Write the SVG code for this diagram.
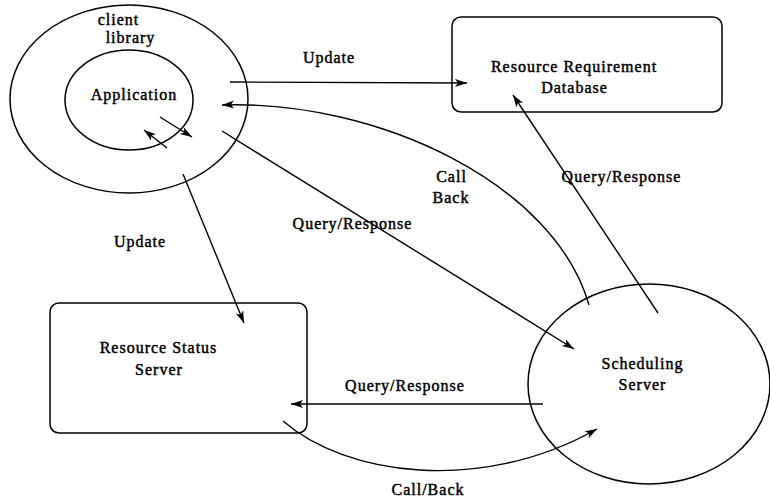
<svg xmlns="http://www.w3.org/2000/svg" width="770" height="497" viewBox="0 0 770 497">
<style>
  .shape { fill: none; stroke: #000; stroke-width: 1.5; }
  .conn { fill: none; stroke: #000; stroke-width: 1.4; }
  text { font-family: "Liberation Serif", "Times New Roman", serif; font-size: 16px; letter-spacing: 1px; fill: #000; stroke: #000; stroke-width: 0.45; text-anchor: middle; }
</style>
<defs>
  <marker id="arr" markerUnits="userSpaceOnUse" markerWidth="14" markerHeight="10" refX="12" refY="4" orient="auto">
    <path d="M0,0 L12,4 L0,8 L3,4 z" fill="#000" stroke="none"/>
  </marker>
</defs>
<rect width="770" height="497" fill="#fff"/>

<g id="client-library">
  <ellipse class="shape" cx="129" cy="99" rx="119" ry="94"/>
  <text x="118.5" y="25">client</text>
  <text x="130.5" y="43">library</text>
</g>
<g id="application">
  <ellipse class="shape" cx="129" cy="100" rx="64" ry="50"/>
  <text x="134" y="100">Application</text>
</g>
<g id="resource-requirement-database">
  <rect class="shape" x="452" y="17" width="270" height="95" rx="9" ry="9"/>
  <text x="574" y="72">Resource Requirement</text>
  <text x="574.5" y="93">Database</text>
</g>
<g id="resource-status-server">
  <rect class="shape" x="50" y="303" width="257" height="130" rx="9" ry="9"/>
  <text x="158.5" y="353">Resource Status</text>
  <text x="159" y="375">Server</text>
</g>
<g id="scheduling-server">
  <ellipse class="shape" cx="649" cy="384" rx="121" ry="100"/>
  <text x="642.5" y="369">Scheduling</text>
  <text x="642.5" y="390">Server</text>
</g>

<g id="connectors">
  <line class="conn" x1="160" y1="117" x2="192" y2="137" marker-end="url(#arr)"/>
  <line class="conn" x1="167" y1="148" x2="144" y2="130" marker-end="url(#arr)"/>
  <line class="conn" x1="230" y1="82" x2="467" y2="83" marker-end="url(#arr)"/>
  <path class="conn" d="M589,305 C555,185 380,100 222,105" marker-end="url(#arr)"/>
  <line class="conn" x1="222" y1="131" x2="574" y2="349" marker-end="url(#arr)"/>
  <line class="conn" x1="183" y1="174" x2="244" y2="323" marker-end="url(#arr)"/>
  <line class="conn" x1="658" y1="313" x2="513" y2="95" marker-end="url(#arr)"/>
  <line class="conn" x1="543" y1="404" x2="291" y2="404" marker-end="url(#arr)"/>
  <path class="conn" d="M283,421 C345,475 480,495 597,429" marker-end="url(#arr)"/>
</g>

<g id="labels">
  <text x="329" y="63">Update</text>
  <text x="451.5" y="182">Call</text>
  <text x="451" y="203">Back</text>
  <text x="352.5" y="229">Query/Response</text>
  <text x="621.5" y="182">Query/Response</text>
  <text x="140" y="247">Update</text>
  <text x="405" y="391">Query/Response</text>
  <text x="428" y="495">Call/Back</text>
</g>
</svg>
